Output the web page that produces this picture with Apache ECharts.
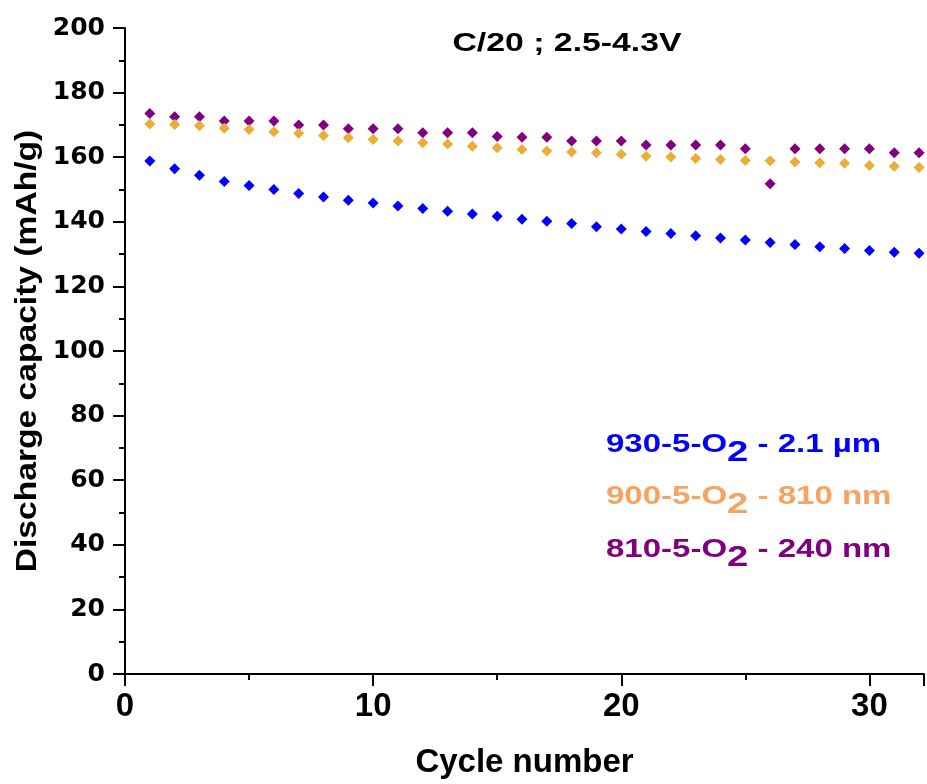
<!DOCTYPE html>
<html>
<head>
<meta charset="utf-8">
<script src="https://cdn.jsdelivr.net/npm/echarts@6/dist/echarts.min.js"></script>
<style>html,body{margin:0;padding:0;background:#fff}#c{width:927px;height:784px}</style>
</head>
<body>
<div id="c"></div>
<script>
const cycles = [1,2,3,4,5,6,7,8,9,10,11,12,13,14,15,16,17,18,19,20,21,22,23,24,25,26,27,28,29,30,31,32];
const blue930 = [158.8,156.4,154.4,152.5,151.2,150.0,148.8,147.7,146.7,145.8,144.9,144.1,143.3,142.4,141.7,140.8,140.2,139.5,138.5,137.8,137.0,136.4,135.7,135.0,134.4,133.6,133.0,132.3,131.7,131.1,130.6,130.3];
const orange900 = [170.3,170.1,169.7,169.0,168.6,167.9,167.4,166.7,166.0,165.5,165.0,164.5,164.1,163.4,162.9,162.4,161.9,161.6,161.4,160.9,160.3,160.1,159.6,159.3,159.0,158.9,158.5,158.3,158.1,157.4,157.2,156.8];
const purple810 = [173.5,172.5,172.5,171.2,171.2,171.2,170.0,170.0,168.8,168.8,168.8,167.6,167.6,167.6,166.4,166.2,166.2,165.0,165.0,165.0,163.8,163.8,163.8,163.8,162.6,151.8,162.6,162.6,162.6,162.6,161.4,161.4];
const yTicks = [0,20,40,60,80,100,120,140,160,180,200];
const xTicks = [0,10,20,30];
const titleText = 'C/20 ; 2.5-4.3V';
const xTitle = 'Cycle number';
const yTitle = 'Discharge capacity (mAh/g)';
const legendItems = [
  {pre:'930-5-O', sub:'2', post:' - 2.1 µm'},
  {pre:'900-5-O', sub:'2', post:' - 810 nm'},
  {pre:'810-5-O', sub:'2', post:' - 240 nm'}
];

const cBlue = '#0000FF', cOrange = '#E8AE35', cOrangeText = '#F5A462', cPurple = '#800080';
const sans = '"Liberation Sans", Arial, sans-serif';
const wide = '"DejaVu Sans", "Liberation Sans", sans-serif';

const pair = arr => cycles.map((c,i)=>[c, arr[i]]);

function legendText(item, color, y){
  return {
    type:'text', x:606, y:y, scaleX:1.32,
    style:{
      text:'{a|'+item.pre+'}{s|'+item.sub+'}{a|'+item.post+'}',
      verticalAlign:'top', align:'left',
      rich:{
        a:{fontFamily:sans, fontWeight:'bold', fontSize:25, fill:color, verticalAlign:'bottom'},
        s:{fontFamily:sans, fontWeight:'bold', fontSize:29, fill:color, verticalAlign:'bottom', padding:[0,0,-9,0]}
      }
    }
  };
}

const chart = echarts.init(document.getElementById('c'), null, {renderer:'canvas'});
chart.setOption({
  animation:false,
  backgroundColor:'#fff',
  grid:{left:125, right:0, top:28, bottom:107, containLabel:false},
  xAxis:{
    type:'value', min:0, max:32.2, interval:10,
    name:xTitle, nameLocation:'middle', nameGap:72,
    nameTextStyle:{fontFamily:sans, fontWeight:'bold', fontSize:33, color:'#000'},
    axisLine:{show:true, onZero:false, lineStyle:{color:'#000', width:2}},
    axisTick:{show:true, inside:false, length:12, lineStyle:{color:'#000', width:2}},
    minorTick:{show:true, splitNumber:2, length:6, lineStyle:{color:'#000', width:2}},
    axisLabel:{margin:16, fontFamily:sans, fontWeight:'bold', fontSize:33, color:'#000',
      formatter:v=> xTicks.indexOf(Math.round(v*1000)/1000)>=0 ? String(v) : ''},
    splitLine:{show:false}
  },
  yAxis:{
    type:'value', min:0, max:200, interval:20,
    axisLine:{show:true, onZero:false, lineStyle:{color:'#000', width:2}},
    axisTick:{show:true, inside:false, length:12, lineStyle:{color:'#000', width:2}},
    minorTick:{show:true, splitNumber:2, length:6, lineStyle:{color:'#000', width:2}},
    axisLabel:{margin:20, fontFamily:wide, fontWeight:'bold', fontSize:25, color:'#000',
      formatter:v=> yTicks.indexOf(v)>=0 ? String(v) : ''},
    splitLine:{show:false}
  },
  series:[
    {name:'810', type:'scatter', symbol:'diamond', symbolSize:11, itemStyle:{color:cPurple, opacity:1}, data:pair(purple810), z:2},
    {name:'900', type:'scatter', symbol:'diamond', symbolSize:11, itemStyle:{color:cOrange, opacity:1}, data:pair(orange900), z:3},
    {name:'930', type:'scatter', symbol:'diamond', symbolSize:11, itemStyle:{color:cBlue, opacity:1}, data:pair(blue930), z:4}
  ],
  graphic:[
    {type:'text', x:567, y:44, scaleX:1.3,
      style:{text:titleText, fontFamily:sans, fontWeight:'bold', fontSize:26, fill:'#000', align:'center', verticalAlign:'middle'}},
    {type:'text', x:28, y:351, rotation:Math.PI/2, scaleX:1.12,
      style:{text:yTitle, fontFamily:sans, fontWeight:'bold', fontSize:30, fill:'#000', align:'center', verticalAlign:'middle'}},
    legendText(legendItems[0], cBlue, 433),
    legendText(legendItems[1], cOrangeText, 485),
    legendText(legendItems[2], cPurple, 538)
  ]
});
</script>
</body>
</html>
